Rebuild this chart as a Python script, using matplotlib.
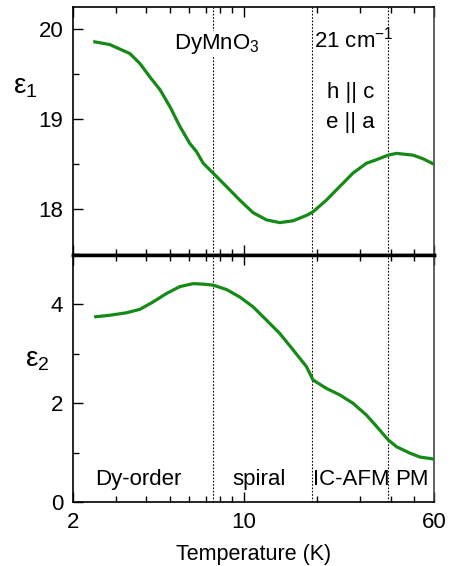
import numpy as np
import matplotlib
matplotlib.use("Agg")
import matplotlib.pyplot as plt

plt.rcParams['font.family'] = ['Liberation Sans', 'DejaVu Sans']
plt.rcParams['mathtext.fontset'] = 'custom'
plt.rcParams['mathtext.rm'] = 'Liberation Sans'
plt.rcParams['mathtext.it'] = 'Liberation Sans'

# eps1 (real part) vs temperature
t1 = [2.46, 2.83, 3.42, 3.76, 4.13, 4.54, 4.99, 5.48, 6.02, 6.41, 6.83, 7.5, 8.51,
      9.64, 10.93, 12.41, 14.06, 15.93, 18.07, 19.23, 21.8, 24.7, 28.0, 31.8, 35.0,
      39.0, 42.2, 49.4, 54.2, 60.0]
eps1 = [19.86, 19.83, 19.73, 19.62, 19.47, 19.33, 19.14, 18.92, 18.73, 18.64, 18.51,
        18.40, 18.25, 18.10, 17.96, 17.88, 17.85, 17.87, 17.93, 17.97, 18.10, 18.25,
        18.40, 18.51, 18.55, 18.60, 18.62, 18.60, 18.56, 18.50]

# eps2 (imaginary part) vs temperature
t2 = [2.48, 2.83, 3.31, 3.76, 4.26, 4.83, 5.48, 6.21, 6.83, 7.5, 8.51, 9.64, 10.93,
      12.41, 14.06, 15.93, 18.07, 19.23, 21.8, 24.7, 28.0, 31.8, 35.0, 39.0, 42.2,
      47.9, 52.7, 60.0]
eps2 = [3.75, 3.78, 3.83, 3.90, 4.05, 4.22, 4.36, 4.42, 4.41, 4.39, 4.30, 4.15, 3.95,
        3.68, 3.41, 3.08, 2.74, 2.47, 2.30, 2.17, 2.00, 1.76, 1.53, 1.26, 1.12, 0.99,
        0.91, 0.87]

# phase transition temperatures (dotted lines)
t_trans = [7.5, 19.0, 39.0]
phases = ["Dy-order", "spiral", "IC-AFM", "PM"]
phase_x = [3.72, 11.6, 27.6, 48.6]

green = '#168a16'
fs = 16

fig = plt.figure(figsize=(4.5, 5.66), dpi=100)
ax1 = fig.add_axes([0.162, 0.5495, 0.802, 0.4385])
ax2 = fig.add_axes([0.162, 0.113, 0.802, 0.4365])

ax1.plot(t1, eps1, color=green, lw=2.3, zorder=3)
ax2.plot(t2, eps2, color=green, lw=2.3, zorder=3)

for ax in (ax1, ax2):
    ax.set_xscale('log')
    ax.set_xlim(2, 60)
    for t in t_trans:
        ax.axvline(t, color='k', ls=(0, (1.5, 1.5)), lw=0.8, zorder=1)
    ax.set_xticks([2, 10, 60])
    ax.set_xticks([3, 4, 5, 6, 7, 8, 9, 20, 30, 40, 50], minor=True)
    ax.tick_params(which='both', direction='in', labelsize=fs, top=True, right=False)
    ax.tick_params(which='major', length=7, width=1, pad=7)
    ax.tick_params(which='minor', length=4.5, width=1)
    for s in ax.spines.values():
        s.set_linewidth(1.2)
    ax.spines['right'].set_color('#444444')

ax1.set_ylim(17.49, 20.25)
ax1.set_yticks([18, 19, 20])
ax1.set_yticks([17.5, 18.5, 19.5], minor=True)
ax1.tick_params(labelbottom=False)
ax1.spines['bottom'].set_linewidth(2.5)
ax1.set_ylabel('ε$_1$', fontsize=20, rotation=0, va='center')
ax1.yaxis.set_label_coords(-0.133, 0.677)

ax2.set_ylim(0, 5.0)
ax2.set_yticks([0, 2, 4])
ax2.set_yticks([1, 3, 5], minor=True)
ax2.set_xticklabels(['2', '10', '60'])
ax2.spines['top'].set_linewidth(2.5)
ax2.set_ylabel('ε$_2$', fontsize=20, rotation=0, va='center')
ax2.yaxis.set_label_coords(-0.10, 0.575)
ax2.set_xlabel('Temperature (K)', fontsize=15.5, labelpad=8)

ax1.text(7.77, 19.78, 'DyMnO$_3$', fontsize=fs, ha='center', va='baseline', zorder=2,
         bbox=dict(facecolor='white', edgecolor='none', pad=1))
ax1.text(28.2, 19.80, '21 cm$^{-1}$', fontsize=fs, ha='center', va='baseline', zorder=2)
ax1.text(27.4, 19.24, 'h || c', fontsize=fs, ha='center', va='baseline')
ax1.text(27.4, 18.90, 'e || a', fontsize=fs, ha='center', va='baseline')

for x, name in zip(phase_x, phases):
    ax2.text(x, 0.35, name, fontsize=fs, ha='center', va='baseline')

fig.savefig('out.png', dpi=100)
